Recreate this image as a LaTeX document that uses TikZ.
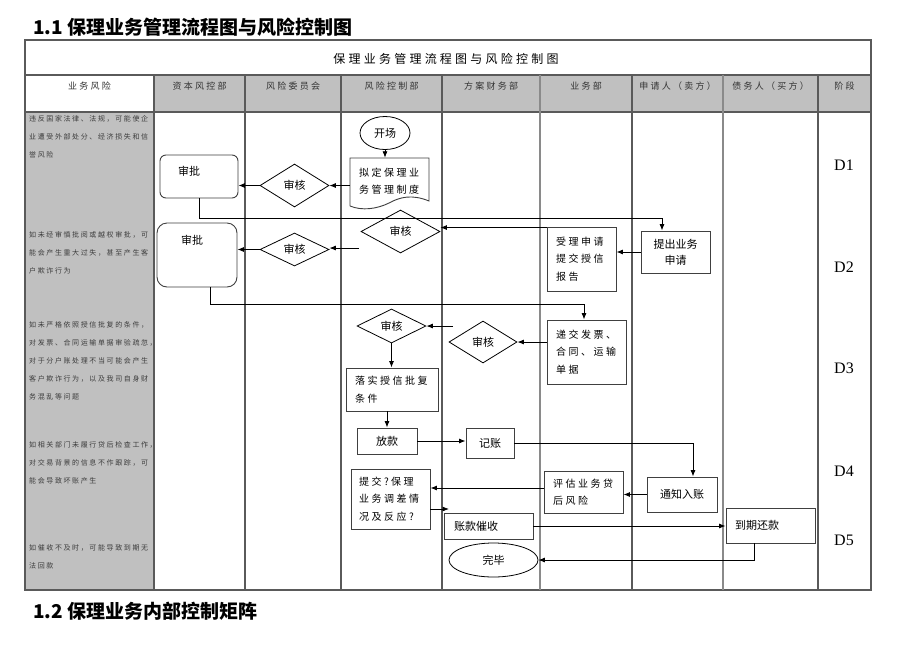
\documentclass[tikz,border=0pt]{standalone}
\usepackage{fontspec}
\usetikzlibrary{shapes.geometric,arrows.meta}
\setmainfont{Noto Sans CJK SC}
\newfontfamily\cjkwide[LetterSpace=25]{Noto Sans CJK SC}
\newfontfamily\cjkrisk[LetterSpace=23]{Noto Sans CJK SC}
\newfontfamily\cjkhead[LetterSpace=25]{Noto Sans CJK SC}
\newfontfamily\cjktitle[LetterSpace=27]{Noto Sans CJK SC}
\newfontfamily\dfont{Liberation Serif}
\definecolor{hdrgray}{HTML}{C0C0C0}
\definecolor{tline}{HTML}{5A5A5A}
\definecolor{tlight}{HTML}{8A8A8A}
\definecolor{boxline}{HTML}{404040}
\definecolor{risktext}{HTML}{3C3C3C}
\begin{document}
\begin{tikzpicture}[x=1pt,y=-1pt,
  arr/.style={draw=black,line width=0.8pt,-{Latex[length=6.5pt,width=5pt]}},
  flowbox/.style={draw=boxline,line width=0.9pt,rectangle,inner ysep=0pt},
  widetxt/.style={font=\cjkwide\fontsize{10}{17.5}\selectfont,align=left,inner xsep=9pt},
  plaintxt/.style={font=\fontsize{11}{16}\selectfont},
  dia/.style={draw=black,line width=0.8pt,diamond,inner sep=0pt,font=\fontsize{11}{13}\selectfont},
  oval/.style={draw=black,line width=0.8pt,ellipse,inner sep=0pt,font=\fontsize{11}{13}\selectfont},
  risk/.style={anchor=north west,inner sep=0pt,align=left,text=risktext,font=\cjkrisk\fontsize{7}{18}\selectfont},
  hdr/.style={text=black!80,font=\cjkhead\fontsize{9}{11}\selectfont,inner sep=0pt},
  dlab/.style={font=\dfont\fontsize{16}{18}\selectfont,inner sep=0pt},
  tl/.style={draw=tline,line width=1.6pt},
]
\fill[white] (0,0) rectangle (920,651);
\useasboundingbox (0,0) rectangle (920,651);

% table
\fill[hdrgray] (154,75) rectangle (871,112);
\fill[hdrgray] (25,112) rectangle (154,590);
\draw[tl] (25,40) rectangle (871,590);
\draw[tl] (25,75) -- (871,75);
\draw[tl] (25,112) -- (871,112);
\foreach \x in {154,245,341,442,632,818} \draw[tl] (\x,75) -- (\x,590);
\foreach \x in {540,723} \draw[tl,draw=tlight] (\x,75) -- (\x,590);

% titles
\node[anchor=west,inner sep=0pt,font=\bfseries\fontsize{19}{22}\selectfont] (t1) at (33,27) {1.1 保理业务管理流程图与风险控制图};
\node[anchor=west,inner sep=0pt,font=\bfseries\fontsize{19}{22}\selectfont] (t2) at (33,611) {1.2 保理业务内部控制矩阵};
\node[font=\cjktitle\fontsize{12}{14}\selectfont,inner sep=0pt] (ttl) at (446,59) {保理业务管理流程图与风险控制图};

% headers
\node[hdr] (h1) at (89.5,86) {业务风险};
\node[hdr] (h2) at (199.5,86) {资本风控部};
\node[hdr] (h3) at (293,86) {风险委员会};
\node[hdr] (h4) at (391.5,86) {风险控制部};
\node[hdr] (h5) at (491,86) {方案财务部};
\node[hdr] (h6) at (586,86) {业务部};
\node[hdr] (h7) at (677.5,86) {申请人（卖方）};
\node[hdr] (h8) at (770.5,86) {债务人（买方）};
\node[hdr] (h9) at (844.5,86) {阶段};

% risks
\node[risk] (r1) at (29,115.5) {违反国家法律、法规，可能使企\\业遭受外部处分、经济损失和信\\誉风险};
\node[risk] (r2) at (29,231.5) {如未经审慎批阅或越权审批，可\\能会产生重大过失，甚至产生客\\户欺诈行为};
\node[risk] (r3) at (29,321.5) {如未严格依照授信批复的条件，\\对发票、合同运输单据审验疏忽，\\对于分户账处理不当可能会产生\\客户欺诈行为，以及我司自身财\\务混乱等问题};
\node[risk] (r4) at (29,441.5) {如相关部门未履行贷后检查工作，\\对交易背景的信息不作跟踪，可\\能会导致坏账产生};
\node[risk] (r5) at (29,544.5) {如催收不及时，可能导致到期无\\法回款};

% stages
\node[dlab] (D1) at (844,165) {D1};
\node[dlab] (D2) at (844,267) {D2};
\node[dlab] (D3) at (844,368) {D3};
\node[dlab] (D4) at (844,471) {D4};
\node[dlab] (D5) at (844,540) {D5};

% flow nodes
\node[oval,minimum width=50pt,minimum height=33pt] (start) at (385,133) {开场};
\node[widetxt,text width=61pt,minimum height=46pt,inner ysep=0pt] (doc) at (389.5,181) {拟定保理业\\务管理制度};
\draw[draw=boxline,line width=0.9pt] (350,206) -- (350,158) -- (429,158) -- (429,201)
  .. controls (412,194) and (400,197) .. (389,203)
  .. controls (377,209) and (362,211) .. (350,206);
\node[dia,minimum width=69pt,minimum height=43pt] (d1) at (294.5,185.5) {审核};
\node[flowbox,rounded corners=6pt,minimum width=78pt,minimum height=43pt] (ap1) at (199,176.5) {};
\node[inner sep=0pt,plaintxt] (ap1t) at (189,171) {审批};
\node[dia,minimum width=79pt,minimum height=43pt] (d2) at (400.5,231.5) {审核};
\node[flowbox,plaintxt,align=center,minimum width=69pt,minimum height=42pt] (apply) at (675.5,252) {提出业务\\申请};
\node[flowbox,widetxt,text width=51pt,minimum height=64pt] (accept) at (581.5,259) {受理申请\\提交授信\\报告};
\node[dia,minimum width=69pt,minimum height=33pt] (d3) at (294.5,249.5) {审核};
\node[flowbox,rounded corners=10pt,minimum width=80pt,minimum height=64pt] (ap2) at (197,255) {};
\node[inner sep=0pt,plaintxt] (ap2t) at (192,240) {审批};
\node[flowbox,widetxt,text width=61pt,minimum height=64pt] (submit) at (586.5,352) {递交发票、\\合同、运输\\单据};
\node[dia,minimum width=68pt,minimum height=42pt] (d4) at (483,342) {审核};
\node[dia,minimum width=69pt,minimum height=34pt] (d5) at (391.5,326) {审核};
\node[flowbox,widetxt,text width=74pt,minimum height=43pt] (impl) at (392,389.5) {落实授信批复\\条件};
\node[flowbox,plaintxt,minimum width=60pt,minimum height=26pt] (loan) at (387,441) {放款};
\node[flowbox,plaintxt,minimum width=48pt,minimum height=30pt] (book) at (490,443) {记账};
\node[flowbox,plaintxt,minimum width=70pt,minimum height=35pt] (notify) at (682,494.5) {通知入账};
\node[flowbox,widetxt,text width=61pt,minimum height=42pt] (eval) at (583.5,492) {评估业务贷\\后风险};
\node[flowbox,widetxt,inner xsep=8pt,text width=63pt,minimum height=60pt] (rep) at (390.5,499) {提交?保理\\业务调差情\\况及反应?};
\node[flowbox,plaintxt,align=left,inner xsep=10pt,text width=69pt,minimum height=26pt] (collect) at (488.5,526) {账款催收};
\node[flowbox,plaintxt,align=left,inner xsep=9pt,text width=71pt,minimum height=35pt] (due) at (770.5,525.5) {到期还款};
\node[oval,minimum width=89pt,minimum height=34pt] (end) at (493.5,560) {完毕};

% connectors
\coordinate (j1) at (662,218);
\coordinate (j2) at (584,304);
\coordinate (j3) at (693,443);
\coordinate (j4) at (754,560);
\coordinate (c2) at (359,248);
\coordinate (c3) at (453,326);
\coordinate (c4) at (449,509);
\draw[arr] (start.south) -- (start.south |- doc.north);
\draw[arr] (d1.east -| doc.west) -- (d1.east);
\draw[arr] (d1.west) -- (d1.west -| ap1.east);
\draw[arr] (ap1.south) |- (j1) -- (j1 |- apply.north);
\draw[arr] (apply.west) -- (apply.west -| accept.east);
\draw[arr] ([yshift=-1pt]accept.north west) -- ([yshift=-1pt]accept.north west -| d2.east);
\draw[arr] (c2) -- (c2 -| d3.east);
\draw[arr] (d3.west) -- (d3.west -| ap2.east);
\draw[arr] ([xshift=13pt]ap2.south) |- (j2) -- (j2 |- submit.north);
\draw[arr] (d4.east -| submit.west) -- (d4.east);
\draw[arr] (c3) -- (d5.east);
\draw[arr] (d5.south) -- (d5.south |- impl.north);
\draw[arr] (loan.north |- impl.south) -- (loan.north);
\draw[arr] (loan.east) -- (loan.east -| book.west);
\draw[arr] (book.east) -- (j3) -- (j3 |- notify.north);
\draw[arr] (notify.west) -- (notify.west -| eval.east);
\draw[arr] ([yshift=4pt]eval.west) -- ([yshift=4pt]eval.west -| rep.east);
\draw[arr] (c4 -| rep.east) -- (c4);
\draw[arr] (collect.east) -- (collect.east -| due.west);
\draw[arr] (j4 |- due.south) -- (j4) -- (end.east);
\end{tikzpicture}
\end{document}
